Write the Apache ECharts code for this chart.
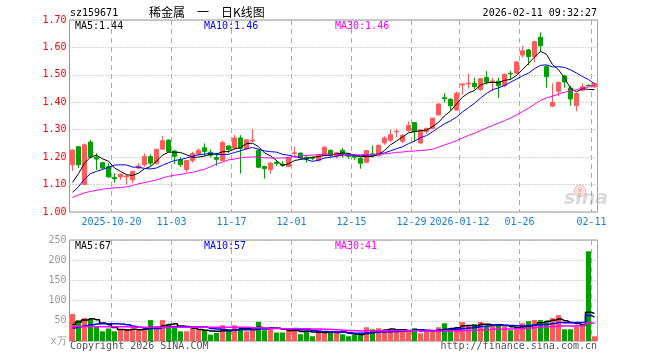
<!DOCTYPE html>
<html><head><meta charset="utf-8">
<script src="https://cdn.jsdelivr.net/npm/echarts@6/dist/echarts.min.js"></script>
<style>html,body{margin:0;padding:0;background:#fff}#c{width:660px;height:360px}</style>
</head><body><div id="c"></div>
<script>
const dates = ['2025-10-09','2025-10-10','2025-10-13','2025-10-14','2025-10-15','2025-10-16','2025-10-17','2025-10-20','2025-10-21','2025-10-22','2025-10-23','2025-10-24','2025-10-27','2025-10-28','2025-10-29','2025-10-30','2025-10-31',
'2025-11-03','2025-11-04','2025-11-05','2025-11-06','2025-11-07','2025-11-10','2025-11-11','2025-11-12','2025-11-13','2025-11-14','2025-11-17','2025-11-18','2025-11-19','2025-11-20','2025-11-21','2025-11-24','2025-11-25','2025-11-26','2025-11-27','2025-11-28',
'2025-12-01','2025-12-02','2025-12-03','2025-12-04','2025-12-05','2025-12-08','2025-12-09','2025-12-10','2025-12-11','2025-12-12','2025-12-15','2025-12-16','2025-12-17','2025-12-18','2025-12-19','2025-12-22','2025-12-23','2025-12-24','2025-12-25','2025-12-26','2025-12-29','2025-12-30','2025-12-31',
'2026-01-05','2026-01-06','2026-01-07','2026-01-08','2026-01-09','2026-01-12','2026-01-13','2026-01-14','2026-01-15','2026-01-16','2026-01-19','2026-01-20','2026-01-21','2026-01-22','2026-01-23','2026-01-26','2026-01-27','2026-01-28','2026-01-29','2026-01-30',
'2026-02-02','2026-02-03','2026-02-04','2026-02-05','2026-02-06','2026-02-09','2026-02-10','2026-02-11'];

const tickLabels = {'2025-10-20':'2025-10-20','2025-11-03':'11-03','2025-11-17':'11-17','2025-12-01':'12-01','2025-12-15':'12-15','2025-12-29':'12-29','2026-01-12':'2026-01-12','2026-01-26':'01-26','2026-02-11':'02-11'};

const open  = [1.172,1.238,1.100,1.255,1.200,1.180,1.165,1.126,1.128,1.128,1.117,1.160,1.172,1.202,1.178,1.229,1.262,1.222,1.190,1.155,1.188,1.212,1.234,1.218,1.199,1.188,1.241,1.233,1.270,1.230,1.259,1.225,1.166,1.155,1.181,1.175,1.166,1.213,1.215,1.200,1.199,1.188,1.206,1.225,1.203,1.225,1.212,1.208,1.196,1.181,1.212,1.205,1.252,1.262,1.292,1.258,1.297,1.326,1.252,1.293,1.305,1.354,1.417,1.411,1.372,1.463,1.467,1.469,1.447,1.490,1.475,1.477,1.461,1.506,1.506,1.572,1.591,1.567,1.637,1.530,1.386,1.440,1.496,1.452,1.388,1.444,1.462,1.456];
const close = [1.226,1.172,1.245,1.200,1.193,1.160,1.128,1.122,1.138,1.131,1.148,1.168,1.202,1.178,1.229,1.260,1.221,1.203,1.172,1.188,1.213,1.225,1.221,1.207,1.192,1.253,1.228,1.270,1.232,1.263,1.262,1.163,1.158,1.178,1.177,1.170,1.197,1.216,1.198,1.193,1.195,1.208,1.236,1.205,1.216,1.210,1.203,1.200,1.178,1.224,1.205,1.243,1.270,1.282,1.294,1.280,1.316,1.293,1.299,1.305,1.342,1.394,1.413,1.387,1.433,1.467,1.470,1.457,1.486,1.474,1.478,1.460,1.502,1.503,1.547,1.588,1.567,1.621,1.606,1.493,1.400,1.473,1.474,1.412,1.432,1.457,1.460,1.469];
const high  = [1.228,1.240,1.250,1.263,1.214,1.183,1.178,1.141,1.140,1.137,1.150,1.178,1.214,1.210,1.230,1.278,1.265,1.227,1.200,1.190,1.220,1.232,1.250,1.228,1.216,1.260,1.243,1.282,1.280,1.265,1.303,1.228,1.168,1.183,1.190,1.186,1.200,1.238,1.216,1.203,1.202,1.210,1.240,1.228,1.218,1.233,1.215,1.212,1.198,1.226,1.243,1.246,1.276,1.300,1.302,1.284,1.330,1.328,1.302,1.307,1.344,1.396,1.433,1.415,1.439,1.468,1.505,1.490,1.488,1.514,1.490,1.490,1.505,1.514,1.550,1.606,1.595,1.624,1.655,1.535,1.469,1.475,1.500,1.460,1.435,1.469,1.465,1.471];
const low   = [1.150,1.160,1.098,1.195,1.153,1.155,1.125,1.107,1.117,1.100,1.105,1.158,1.165,1.168,1.172,1.226,1.218,1.175,1.165,1.145,1.180,1.205,1.205,1.200,1.168,1.185,1.215,1.228,1.140,1.228,1.255,1.160,1.122,1.140,1.168,1.165,1.163,1.198,1.192,1.180,1.188,1.183,1.204,1.202,1.195,1.198,1.193,1.190,1.158,1.178,1.200,1.203,1.245,1.255,1.272,1.250,1.292,1.256,1.248,1.285,1.302,1.352,1.398,1.370,1.370,1.428,1.450,1.447,1.442,1.465,1.440,1.416,1.455,1.483,1.503,1.563,1.535,1.545,1.582,1.453,1.382,1.422,1.453,1.388,1.367,1.440,1.458,1.453];
const volume = [66.7,51.7,56.7,54,35,24,31,24,29,29,31,26.7,29,51.7,31,51.7,41.7,36.7,24,24,31,26.7,26.7,15.8,20,39,26.7,39,29,24,31,47.5,26.7,31,21,21,29,29,16.7,24,11.7,28,24,21,21,16.7,11.7,15.8,15.8,34,29,31.7,26.7,26.7,24,29,24,31.7,19,24,24,34,44,29,34,46.7,36.7,41.7,46.7,36.7,36.7,39,36.7,26.7,29,44,49,51.7,51.7,49,56.7,64,29,29,36.7,40,222,11.7];

// moving-average values visible before enough bars exist
const ma5Lead  = [1.108,1.140,1.178,1.200];
const ma10Lead = [1.072,1.092,1.120,1.140,1.148,1.155,1.163,1.171,1.172];
const ma30Lead = [1.053,1.062,1.070,1.075,1.079,1.083,1.086,1.088,1.089,1.092,1.096,1.103,1.107,1.112,1.117,1.124,1.130,1.134,1.137,1.141,1.145,1.150,1.156,1.165,1.175,1.182,1.190,1.193,1.197];
const vma5Lead  = [41,47,52,55];
const vma10Lead = [32,35,38,40,42,43,43,43,42];
const vma30Lead = [36,36,36,36,35,35,35,35,35,35,34,34,34,34,34,34,34,34,34,34,34,34,34,34,34,34,34,34,34];

const titleCode = 'sz159671';
const titleName = '稀金属　一　日K线图';
const stamp = '2026-02-11 09:32:27';
const priceLegend = ['MA5:1.44','MA10:1.46','MA30:1.46'];
const volLegend = ['MA5:67','MA10:57','MA30:41'];

function movingAvg(arr, n, lead) {
  return arr.map((v, i) => {
    if (i < n - 1) return lead[i];
    let s = 0;
    for (let k = i - n + 1; k <= i; k++) s += arr[k];
    return +(s / n).toFixed(4);
  });
}

const UP = '#ff5b5b', DOWN = '#00a000';
const MONO = '"DejaVu Sans Mono", monospace';
const kData = open.map((o, i) => [o, close[i], low[i], high[i]]);
const volData = volume.map((v, i) => ({value: v, itemStyle: {color: close[i] >= open[i] ? UP : DOWN}}));
const isTick = (i, v) => Object.prototype.hasOwnProperty.call(tickLabels, v);

const chart = echarts.init(document.getElementById('c'), null, {renderer: 'canvas'});
const gridBase = {left: 69.5, width: 528, show: true, borderColor: '#999', borderWidth: 1, backgroundColor: '#fff'};
const vSplit = {show: true, interval: isTick, lineStyle: {color: '#aaa', type: [5, 4], width: 1}};
const hSplit = {show: true, lineStyle: {color: '#aaa', type: [1, 2], width: 1}};

function lineSeries(data, color, xi, yi, step, w) {
  return {type: 'line', data, xAxisIndex: xi, yAxisIndex: yi, showSymbol: false, symbol: 'none',
    step: step || false, silent: true, z: 5, lineStyle: {color, width: w || 1}};
}

function txt(x, y, text, fill, opt) {
  opt = opt || {};
  return {type: 'text', x, y, z: 100, silent: true,
    style: {text, fill, font: opt.font || ('10px ' + MONO), align: opt.align || 'left', verticalAlign: 'middle'}};
}

chart.setOption({
  animation: false,
  backgroundColor: '#fff',
  grid: [Object.assign({top: 20, height: 192}, gridBase), Object.assign({top: 240, height: 101}, gridBase)],
  xAxis: [
    {type: 'category', data: dates, gridIndex: 0, boundaryGap: true,
      axisLine: {show: false}, axisTick: {show: false},
      axisLabel: {interval: isTick, formatter: v => tickLabels[v] || '', color: '#1a7fd4', fontFamily: MONO, fontSize: 10, margin: 5, padding: [0, 6, 0, 0], hideOverlap: false},
      splitLine: vSplit},
    {type: 'category', data: dates, gridIndex: 1, boundaryGap: true,
      axisLine: {show: false}, axisTick: {show: false}, axisLabel: {show: false},
      splitLine: vSplit}
  ],
  yAxis: [
    {type: 'value', gridIndex: 0, min: 1.0, max: 1.7, interval: 0.1,
      axisLine: {show: false}, axisTick: {show: false},
      axisLabel: {color: '#ff0000', fontFamily: MONO, fontSize: 10, margin: 3, formatter: v => v.toFixed(2)},
      splitLine: hSplit},
    {type: 'value', gridIndex: 1, min: 0, max: 250, interval: 50,
      axisLine: {show: false}, axisTick: {show: false},
      axisLabel: {color: '#999', fontFamily: MONO, fontSize: 10, margin: 3, formatter: v => v === 0 ? 'x万' : String(v)},
      splitLine: hSplit}
  ],
  series: [
    {type: 'candlestick', data: kData, xAxisIndex: 0, yAxisIndex: 0, barWidth: 5, silent: true, z: 3,
      itemStyle: {color: UP, color0: DOWN, borderColor: UP, borderColor0: DOWN, borderWidth: 1}},
    lineSeries(movingAvg(close, 5, ma5Lead), '#000000', 0, 0),
    lineSeries(movingAvg(close, 10, ma10Lead), '#0000ff', 0, 0),
    lineSeries(movingAvg(close, 30, ma30Lead), '#ff00ff', 0, 0),
    {type: 'bar', data: volData, xAxisIndex: 1, yAxisIndex: 1, barWidth: 5, silent: true, z: 3},
    lineSeries(movingAvg(volume, 5, vma5Lead), '#000000', 1, 1, 'middle', 1.5),
    lineSeries(movingAvg(volume, 10, vma10Lead), '#0000ff', 1, 1, 'middle', 1.5),
    lineSeries(movingAvg(volume, 30, vma30Lead), '#ff00ff', 1, 1, 'middle', 1.5)
  ],
  graphic: [
    txt(70, 13, titleCode, '#000'),
    txt(149, 12.5, titleName, '#000', {font: '12px "Noto Sans CJK SC"'}),
    txt(597, 13, stamp, '#000', {align: 'right'}),
    txt(75, 26, priceLegend[0], '#000'),
    txt(204, 26, priceLegend[1], '#0000ff'),
    txt(335, 26, priceLegend[2], '#ff00ff'),
    txt(75, 246.5, volLegend[0], '#000'),
    txt(204, 246.5, volLegend[1], '#0000ff'),
    txt(335, 246.5, volLegend[2], '#ff00ff'),
    txt(70, 346, 'Copyright 2026 SINA.COM', '#555'),
    txt(597, 346, 'http://finance.sina.com.cn', '#555', {align: 'right'}),
    {type: 'circle', shape: {cx: 580, cy: 191, r: 6}, z: 1, silent: true, style: {fill: 'rgba(240,120,120,0.25)', stroke: 'rgba(230,110,110,0.3)'}},
    txt(564, 199, 'sina', 'rgba(170,170,170,0.45)', {font: 'italic bold 19px "DejaVu Sans"'})
  ]
});
</script>
</body></html>
